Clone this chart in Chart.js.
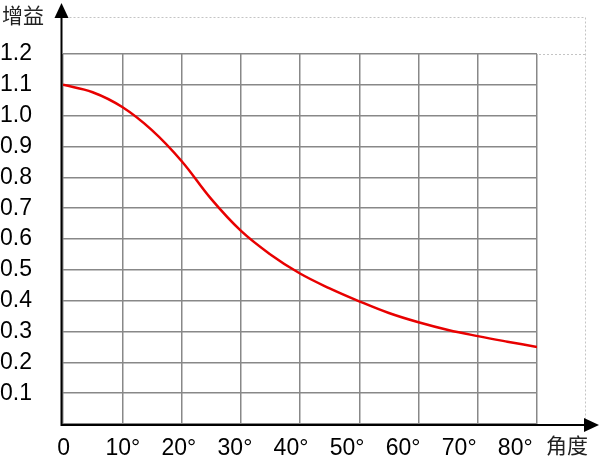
<!DOCTYPE html>
<html><head><meta charset="utf-8">
<script src="https://cdn.jsdelivr.net/npm/chart.js@4/dist/chart.umd.min.js"></script>
<style>html,body{margin:0;padding:0;background:#fff;}#wrap{width:600px;height:462px;}</style>
</head><body><div id="wrap"><canvas id="c"></canvas></div>
<script>
const angles = [0,5,10,15,20,25,30,35,40,45,50,55,60,65,70,75,80];
const gains  = [1.10,1.076,1.028,0.953,0.853,0.73,0.627,0.55,0.488,0.44,0.398,0.36,0.33,0.305,0.285,0.267,0.25];
const xTickValues = [0,10,20,30,40,50,60,70,80];
const yTitle = '增益';
const xTitle = '角度';
const yTickStep = 0.1;

const decor = {
  id:'decor',
  afterDraw(chart){
    const ctx = chart.ctx, a = chart.chartArea;
    const L = a.left - 1.5, B = a.bottom + 1;
    ctx.save();
    ctx.strokeStyle = '#c4c4c4'; ctx.lineWidth = 1; ctx.setLineDash([2,2]);
    ctx.beginPath();
    ctx.moveTo(L+8, 17.5); ctx.lineTo(585.5, 17.5);
    ctx.moveTo(585.5, 17.5); ctx.lineTo(585.5, B-6);
    ctx.moveTo(a.right+2, a.top+0.5); ctx.lineTo(585.5, a.top+0.5);
    ctx.stroke();
    ctx.setLineDash([]);
    ctx.strokeStyle = '#000'; ctx.lineWidth = 2;
    ctx.beginPath();
    ctx.moveTo(L, B); ctx.lineTo(L, 16);
    ctx.moveTo(L-1, B); ctx.lineTo(586, B);
    ctx.stroke();
    ctx.fillStyle = '#000';
    ctx.beginPath(); ctx.moveTo(L, 3); ctx.lineTo(L-7, 18); ctx.lineTo(L+7, 18); ctx.closePath(); ctx.fill();
    ctx.beginPath(); ctx.moveTo(599, B); ctx.lineTo(584, B-7); ctx.lineTo(584, B+7); ctx.closePath(); ctx.fill();
    ctx.font = '21px "Noto Sans CJK SC"';
    ctx.fillStyle = '#222'; ctx.textBaseline = 'middle'; ctx.textAlign = 'left';
    ctx.fillText(yTitle, 2, 15.5);
    ctx.fillText(xTitle, 546, 445.5);
    ctx.restore();
  }
};

const tickFont = {family:'"Liberation Sans", Arial', size:23};

new Chart(document.getElementById('c'), {
  type:'line',
  data:{ datasets:[{
    data: angles.map((x,i)=>({x:x, y:gains[i]})),
    borderColor:'#e80000', borderWidth:2.5, pointRadius:0,
    tension:0.4, fill:false
  }]},
  options:{
    responsive:true, maintainAspectRatio:false, animation:false,
    layout:{padding:{left:0, right:63, top:54, bottom:0}},
    plugins:{legend:{display:false}, tooltip:{enabled:false}},
    scales:{
      x:{ type:'linear', min:0, max:80, position:'bottom',
        border:{display:false},
        grid:{color:'#888', lineWidth:1.5, drawTicks:false},
        ticks:{stepSize:10, display:false},
        afterFit:s=>{s.height = 0;}
      },
      x2:{ type:'linear', min:-0.67, max:83.88, position:'bottom',
        border:{display:false},
        grid:{display:false, drawTicks:false},
        afterBuildTicks:s=>{ s.ticks = xTickValues.map(v=>({value:v})); },
        ticks:{padding:11, color:'#000', font:tickFont, autoSkip:false, maxRotation:0,
          callback:v=> v===0 ? '0 ' : v+'°'},
        afterFit:s=>{s.height = 38;}
      },
      y:{ min:0, max:1.2,
        border:{display:false},
        grid:{color:'#888', lineWidth:1.5, drawTicks:false},
        ticks:{stepSize:yTickStep, crossAlign:'far', padding:0, color:'#000', font:tickFont,
          callback:v=> Math.abs(v) < 1e-9 ? '' : v.toFixed(1)},
        afterFit:s=>{s.width = 63;}
      }
    }
  },
  plugins:[decor]
});
</script></body></html>
